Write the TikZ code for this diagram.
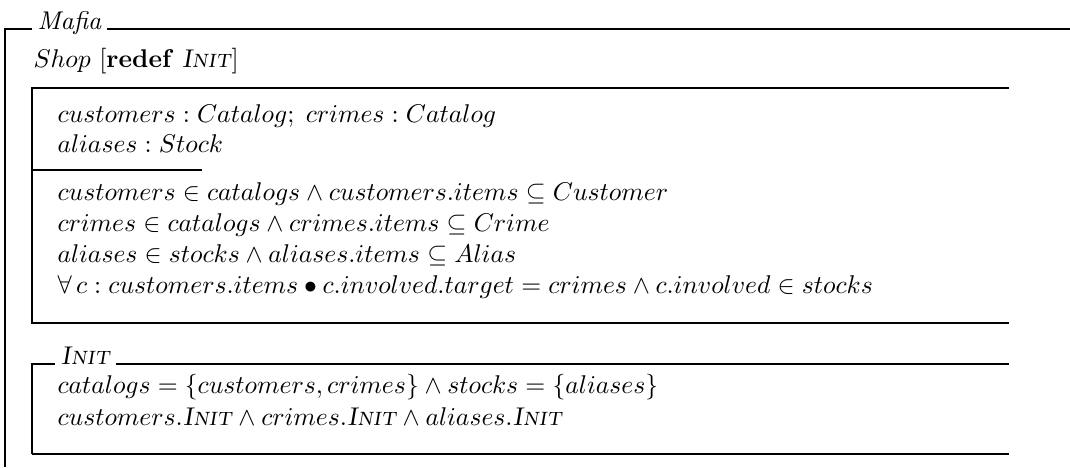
\documentclass[tikz,border=0pt]{standalone}
\usepackage{amsmath,amssymb}
\usepackage{tikz}
\usetikzlibrary{positioning}
\newcommand{\zinit}{\textsl{\textsc{Init}}}
\tikzset{
  zrule/.style ={line width=0.5pt},
  ztext/.style ={anchor=base west,inner sep=0pt},
  ztitle/.style={anchor=base west,inner ysep=0pt,inner xsep=2pt},
}

\begin{document}
\begin{tikzpicture}[x=0.39pt,y=-0.39pt]
  \useasboundingbox (0,0) rectangle (1070,467);
  % class frame
  \node[ztitle] (mafia) at (32,29) {\textit{Mafia\/}};
  \draw[zrule] (5,467) -- (5,29) -- (mafia.base west);
  \draw[zrule] (mafia.base east) -- (1070,29);
  \node[ztext] (shop) at (33,67) {$Shop$ [\textbf{redef} \zinit]};
  % state schema
  \draw[zrule] (1009,88) -- (32,88) -- (32,323) -- (1009,323);
  \draw[zrule] (32,170) -- (202,170);
  \node[ztext] (decl1) at (57,122) {$customers : Catalog;\; crimes : Catalog$};
  \node[ztext] (decl2) at (57,152) {$aliases : Stock$};
  \node[ztext] (pred1) at (57,200) {$customers \in catalogs \land customers.items \subseteq Customer$};
  \node[ztext] (pred2) at (57,231) {$crimes \in catalogs \land crimes.items \subseteq Crime$};
  \node[ztext] (pred3) at (57,262) {$aliases \in stocks \land aliases.items \subseteq Alias$};
  \node[ztext] (pred4) at (57,293) {$\forall\, c : customers.items \bullet c.involved.target = crimes \land c.involved \in stocks$};
  % INIT schema
  \node[ztitle] (init) at (55,364) {\zinit};
  \draw[zrule] (32,454) -- (32,364) -- (init.base west);
  \draw[zrule] (init.base east) -- (1009,364);
  \draw[zrule] (32,454) -- (1009,454);
  \node[ztext] (ini1) at (57,393) {$catalogs = \{customers, crimes\} \land stocks = \{aliases\}$};
  \node[ztext] (ini2) at (57,425) {$customers.\mbox{\zinit} \land crimes.\mbox{\zinit} \land aliases.\mbox{\zinit}$};
\end{tikzpicture}
\end{document}
